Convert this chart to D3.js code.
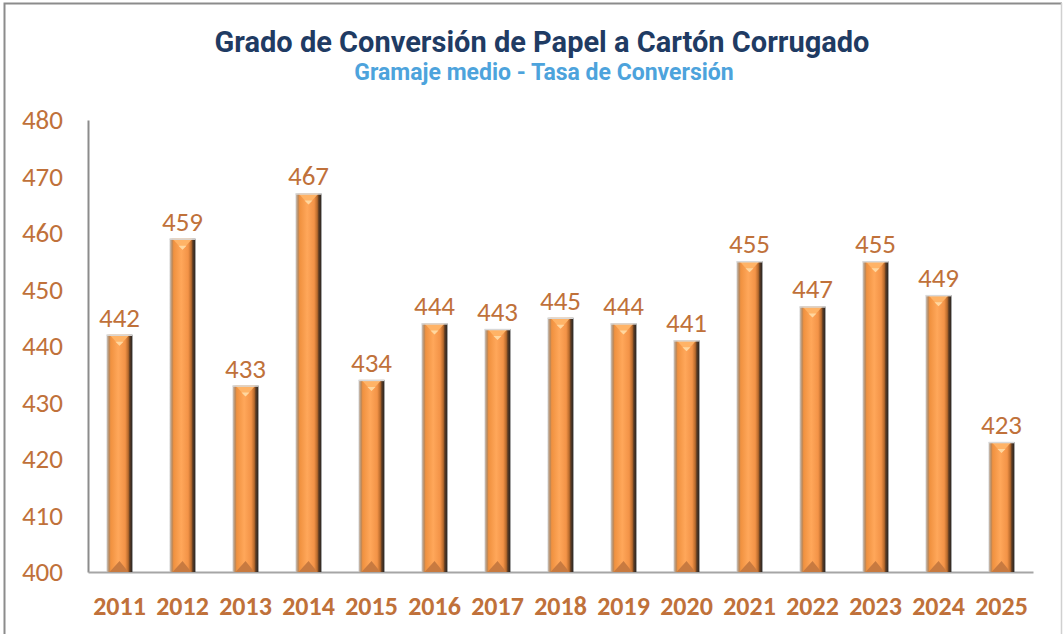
<!DOCTYPE html>
<html>
<head>
<meta charset="utf-8">
<script src="https://cdn.jsdelivr.net/npm/d3@7"></script>
<style>
  body { margin: 0; background: #fff; }
  svg { display: block; }
</style>
</head>
<body>
<script>
// Chart data
var years = ["2011", "2012", "2013", "2014", "2015", "2016", "2017", "2018", "2019", "2020", "2021", "2022", "2023", "2024", "2025"];
var values = [442, 459, 433, 467, 434, 444, 443, 445, 444, 441, 455, 447, 455, 449, 423];
var yTicks = [400, 410, 420, 430, 440, 450, 460, 470, 480];

var W = 1063, H = 634;
var margin = { top: 120, right: 30, bottom: 62, left: 88 };

var svg = d3.select("body").append("svg")
    .attr("width", W)
    .attr("height", H);

// bar gradients
var defs = svg.append("defs");
var side = defs.append("linearGradient").attr("id", "barSide")
    .attr("x1", "0%").attr("x2", "100%").attr("y1", "0%").attr("y2", "0%");
[["0%", "#c9c9c9"], ["10%", "#b8875a"], ["16%", "#f0913f"], ["45%", "#ffa75a"], ["72%", "#f39347"],
 ["84%", "#b86a2c"], ["90%", "#5a3a22"], ["100%", "#262626"]].forEach(function(s) {
  side.append("stop").attr("offset", s[0]).attr("stop-color", s[1]);
});

// outer frame
svg.append("path")
    .attr("d", "M4.5," + H + " V3.5 H1062")
    .attr("fill", "none").attr("stroke", "#8c8c8c").attr("stroke-width", 2);
svg.append("line")
    .attr("x1", 1061.5).attr("x2", 1061.5).attr("y1", 3).attr("y2", H)
    .attr("stroke", "#d0d0d0").attr("stroke-width", 1.5);

// titles
svg.append("text")
    .attr("x", 542).attr("y", 52)
    .attr("text-anchor", "middle")
    .style("font-family", "Roboto, 'DejaVu Sans', sans-serif")
    .style("font-weight", "700")
    .style("font-size", "29px")
    .style("fill", "#1f3b63")
    .text("Grado de Conversión de Papel a Cartón Corrugado");

svg.append("text")
    .attr("x", 544).attr("y", 80)
    .attr("text-anchor", "middle")
    .style("font-family", "Roboto, 'DejaVu Sans', sans-serif")
    .style("font-weight", "700")
    .style("font-size", "23px")
    .style("fill", "#4da3dc")
    .text("Gramaje medio - Tasa de Conversión");

var g = svg.append("g")
    .attr("transform", "translate(" + margin.left + "," + margin.top + ")");

var width = W - margin.left - margin.right,
    height = 572 - margin.top;

var x = d3.scaleBand()
    .domain(years)
    .range([0, width])
    .paddingInner(0.59)
    .paddingOuter(0.295);

var y = d3.scaleLinear()
    .domain([400, 480])
    .range([height, 0]);

var labelColor = "#c0713a";
var font = "Calibri, Carlito, 'Liberation Sans', 'Open Sans', sans-serif";

// y axis
var yAxis = g.append("g")
    .call(d3.axisLeft(y).tickValues(yTicks).tickSize(0).tickPadding(25));
yAxis.select(".domain").attr("stroke", "#8c8c8c").attr("stroke-width", 2);
yAxis.selectAll("text")
    .style("font-family", font)
    .style("font-size", "27px")
    .style("fill", labelColor);

// x axis
var xAxis = g.append("g")
    .attr("transform", "translate(0," + height + ")")
    .call(d3.axisBottom(x).tickSize(0).tickPadding(25));
xAxis.select(".domain").attr("stroke", "#a6a6a6").attr("stroke-width", 2);
xAxis.selectAll("text")
    .style("font-family", font)
    .style("font-weight", "700")
    .style("font-size", "26px")
    .style("fill", labelColor);

// bars
var bars = g.selectAll(".bar")
    .data(values)
    .enter().append("g")
    .attr("class", "bar")
    .attr("transform", function(d, i) { return "translate(" + x(years[i]) + ",0)"; });

var bw = x.bandwidth();

bars.append("rect")
    .attr("x", 0)
    .attr("y", function(d) { return y(d); })
    .attr("width", bw)
    .attr("height", function(d) { return height - y(d); })
    .attr("fill", "url(#barSide)");

// top bevel
bars.append("path")
    .attr("d", function(d) {
      var t = y(d);
      return "M3," + t + " L" + (bw - 3) + "," + t + " L" + (bw / 2) + "," + (t + 11) + " Z";
    })
    .attr("fill", "#ffb366");
bars.append("path")
    .attr("d", function(d) {
      var t = y(d);
      return "M" + (bw / 2 - 4) + "," + (t + 7) + " L" + (bw / 2 + 4) + "," + (t + 7) + " L" + (bw / 2) + "," + (t + 11) + " Z";
    })
    .attr("fill", "#ffd7a0");
bars.append("line")
    .attr("x1", 0).attr("x2", bw)
    .attr("y1", function(d) { return y(d) + 0.5; })
    .attr("y2", function(d) { return y(d) + 0.5; })
    .attr("stroke", "#d8d8d8").attr("stroke-width", 1.5);

// bottom bevel
bars.append("path")
    .attr("d", function() {
      var b = height;
      return "M3," + b + " L" + (bw - 4) + "," + b + " L" + (bw / 2) + "," + (b - 11) + " Z";
    })
    .attr("fill", "#c87a40");

// value labels
bars.append("text")
    .attr("x", bw / 2)
    .attr("y", function(d) { return y(d) - 8; })
    .attr("text-anchor", "middle")
    .style("font-family", font)
    .style("font-size", "27px")
    .style("fill", labelColor)
    .text(function(d) { return d; });
</script>
</body>
</html>
